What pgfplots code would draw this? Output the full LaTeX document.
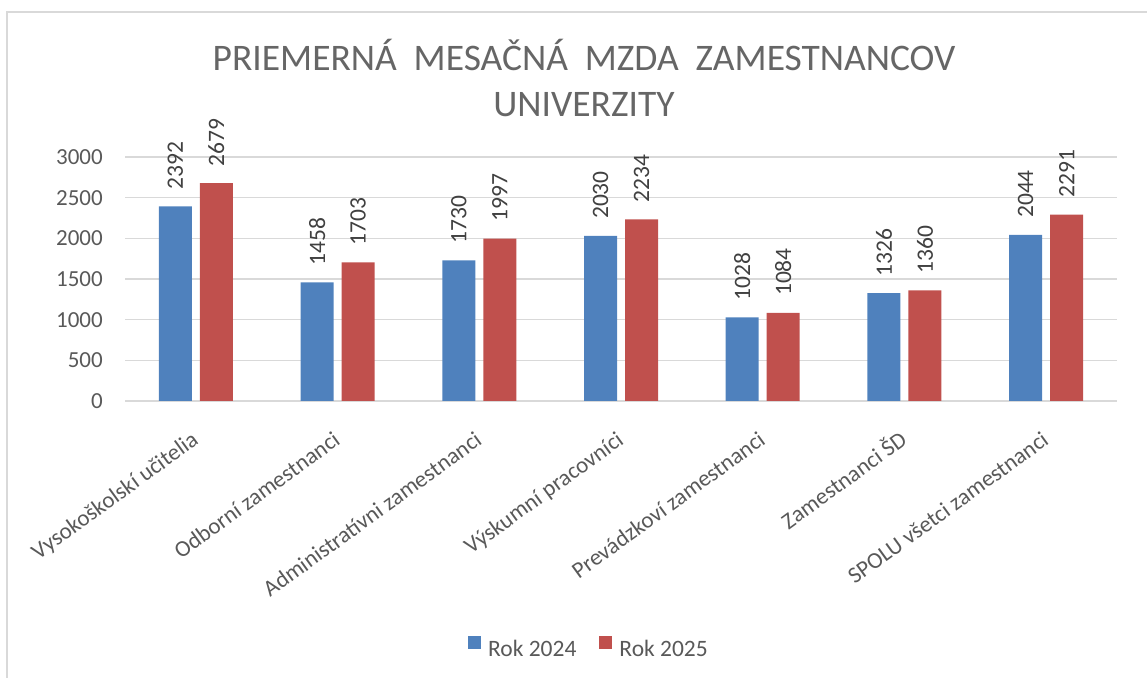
\documentclass[border=0pt]{standalone}
\usepackage{fontspec}
\setmainfont{Carlito}
\usepackage{pgfplots}
\pgfplotsset{compat=1.18}
\definecolor{b24}{HTML}{4F81BD}
\definecolor{r25}{HTML}{C0504D}
\definecolor{txt}{HTML}{595959}
\definecolor{ttl}{HTML}{666666}
\definecolor{lbl}{HTML}{404040}
\definecolor{grd}{HTML}{D9D9D9}
\begin{document}
\begin{tikzpicture}
\useasboundingbox (0,0) rectangle (1147bp,678bp);
\draw[grd, line width=1.5bp] (7bp,0) -- (7bp,666bp) -- (1147bp,666bp);
\begin{axis}[
  at={(125bp,277bp)}, anchor=south west, scale only axis,
  width=992bp, height=244bp,
  ymin=0, ymax=3000, ytick={0,500,...,3000},
  xmin=-0.5, xmax=6.5, xtick={0,...,6},
  xticklabels={Vysokoškolskí učitelia, Odborní zamestnanci, Administratívni zamestnanci, Výskumní pracovníci, Prevádzkoví zamestnanci, Zamestnanci ŠD, SPOLU všetci zamestnanci},
  ybar=8bp, bar width=33bp,
  ymajorgrids, grid style={grd, line width=1.5bp},
  axis line style={draw=none},
  major tick length=0pt,
  tick label style={font=\fontsize{23bp}{27bp}\selectfont, text=txt},
  /pgf/number format/assume math mode=true,
  /pgf/number format/1000 sep={},
  yticklabel style={anchor=east, inner sep=0pt, xshift=-22bp},
  xticklabel style={yshift=-42bp, xshift=4bp, rotate=36, anchor=base east, inner sep=0pt},
  nodes near coords,
  every node near coord/.append style={rotate=90, anchor=west, inner sep=0pt, outer xsep=17bp, outer ysep=0pt, font=\fontsize{23.5bp}{27bp}\selectfont, text=lbl},
  title={PRIEMERNÁ\hspace{0.45em}MESAČNÁ\hspace{0.45em}MZDA\hspace{0.45em}ZAMESTNANCOV\\UNIVERZITY},
  title style={at={(0.4627,1.459)}, anchor=north, align=center, inner sep=0pt, font=\fontsize{37.5bp}{46bp}\selectfont, text=ttl},
  legend columns=2,
  legend style={at={(0.4667,-1.008)}, anchor=center, draw=none, fill=none, inner sep=0pt,
    font=\fontsize{23.5bp}{28bp}\selectfont, text=txt,
    nodes={inner sep=0pt},
    /tikz/every odd column/.append style={column sep=7bp},
    /tikz/every even column/.append style={column sep=23bp}},
  legend image code/.code={\fill[#1] (0bp,0bp) rectangle (13bp,13bp);},
]
\addplot[fill=b24, draw=none] coordinates {(0,2392) (1,1458) (2,1730) (3,2030) (4,1028) (5,1326) (6,2044)};
\addplot[fill=r25, draw=none] coordinates {(0,2679) (1,1703) (2,1997) (3,2234) (4,1084) (5,1360) (6,2291)};
\legend{Rok 2024, Rok 2025}
\end{axis}
\end{tikzpicture}
\end{document}
